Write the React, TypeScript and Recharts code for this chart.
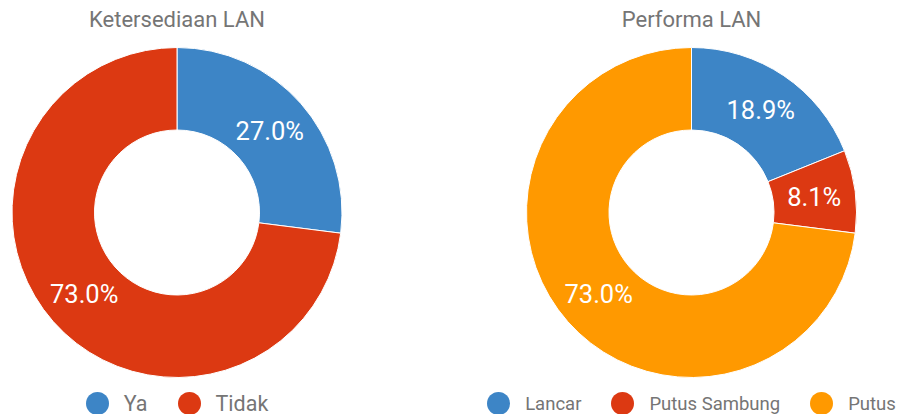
import { PieChart, Pie, Cell, Legend } from "recharts";

const LEFT_TITLE = "Ketersediaan LAN";
const LEFT_NAMES = ["Ya", "Tidak"];
const LEFT_VALUES = [27.0, 73.0];

const RIGHT_TITLE = "Performa LAN";
const RIGHT_NAMES = ["Lancar", "Putus Sambung", "Putus"];
const RIGHT_VALUES = [18.9, 8.1, 73.0];

const COLORS = ["#3d85c6", "#dc3912", "#ff9900"];
const FONT = "Roboto, 'Noto Sans', sans-serif";
const RAD = Math.PI / 180;

function SliceLabel(props: any) {
  const { cx, cy, midAngle, innerRadius, outerRadius, percent } = props;
  const r = (innerRadius + outerRadius) / 2;
  const x = cx + r * Math.cos(-midAngle * RAD);
  const y = cy + r * Math.sin(-midAngle * RAD);
  return (
    <text
      x={x}
      y={y}
      fill="#fff"
      fontSize={25.5}
      fontFamily={FONT}
      textAnchor="middle"
      dominantBaseline="central"
    >
      {(percent * 100).toFixed(1)}%
    </text>
  );
}

function DotLegend({ payload, names, fontSize }: any) {
  // keep the series order instead of the legend's alphabetical sort
  const items = [...(payload || [])].sort(
    (a: any, b: any) => names.indexOf(a.value) - names.indexOf(b.value),
  );
  return (
    <div
      style={{
        display: "flex",
        justifyContent: "center",
        alignItems: "center",
        fontFamily: FONT,
        fontSize,
        lineHeight: "22px",
        color: "#757575",
        whiteSpace: "nowrap",
      }}
    >
      {items.map((p: any, i: number) => (
        <span
          key={`leg-${i}`}
          style={{
            display: "flex",
            alignItems: "center",
            marginLeft: i === 0 ? 0 : 30,
          }}
        >
          <span
            style={{
              width: 23,
              height: 23,
              borderRadius: "50%",
              background: p.color,
              marginRight: 15,
              display: "inline-block",
            }}
          />
          {p.value}
        </span>
      ))}
    </div>
  );
}

interface DonutProps {
  title: string;
  names: string[];
  values: number[];
  width: number;
  cx: number;
  legendSize: number;
}

function Donut({ title, names, values, width, cx, legendSize }: DonutProps) {
  const data = names.map((name, i) => ({ name, value: values[i] }));
  return (
    <div style={{ position: "relative", width, height: 414 }}>
      <div
        style={{
          position: "absolute",
          top: 9,
          left: cx - 200,
          width: 400,
          textAlign: "center",
          fontFamily: FONT,
          fontSize: 22,
          lineHeight: "22px",
          color: "#757575",
        }}
      >
        {title}
      </div>
      <PieChart width={width} height={414} margin={{ top: 0, right: 0, bottom: 0, left: 0 }}>
        <Pie
          data={data}
          dataKey="value"
          nameKey="name"
          cx={cx}
          cy={212.5}
          innerRadius={82.5}
          outerRadius={165}
          startAngle={90}
          endAngle={-270}
          stroke="#fff"
          strokeWidth={1}
          label={SliceLabel}
          labelLine={false}
          isAnimationActive={false}
        >
          {data.map((d, i) => (
            <Cell key={`cell-${d.name}`} fill={COLORS[i]} />
          ))}
        </Pie>
        <Legend
          content={<DotLegend names={names} fontSize={legendSize} />}
          wrapperStyle={{ position: "absolute", top: 392, left: cx - 250, width: 500, bottom: "auto" }}
        />
      </PieChart>
    </div>
  );
}

export default function App() {
  return (
    <div
      style={{
        position: "absolute",
        top: 0,
        left: 0,
        width: 901,
        height: 414,
        background: "#fff",
        display: "flex",
        overflow: "hidden",
      }}
    >
      <Donut title={LEFT_TITLE} names={LEFT_NAMES} values={LEFT_VALUES} width={450} cx={177} legendSize={21.5} />
      <Donut title={RIGHT_TITLE} names={RIGHT_NAMES} values={RIGHT_VALUES} width={451} cx={241.5} legendSize={18.5} />
    </div>
  );
}
